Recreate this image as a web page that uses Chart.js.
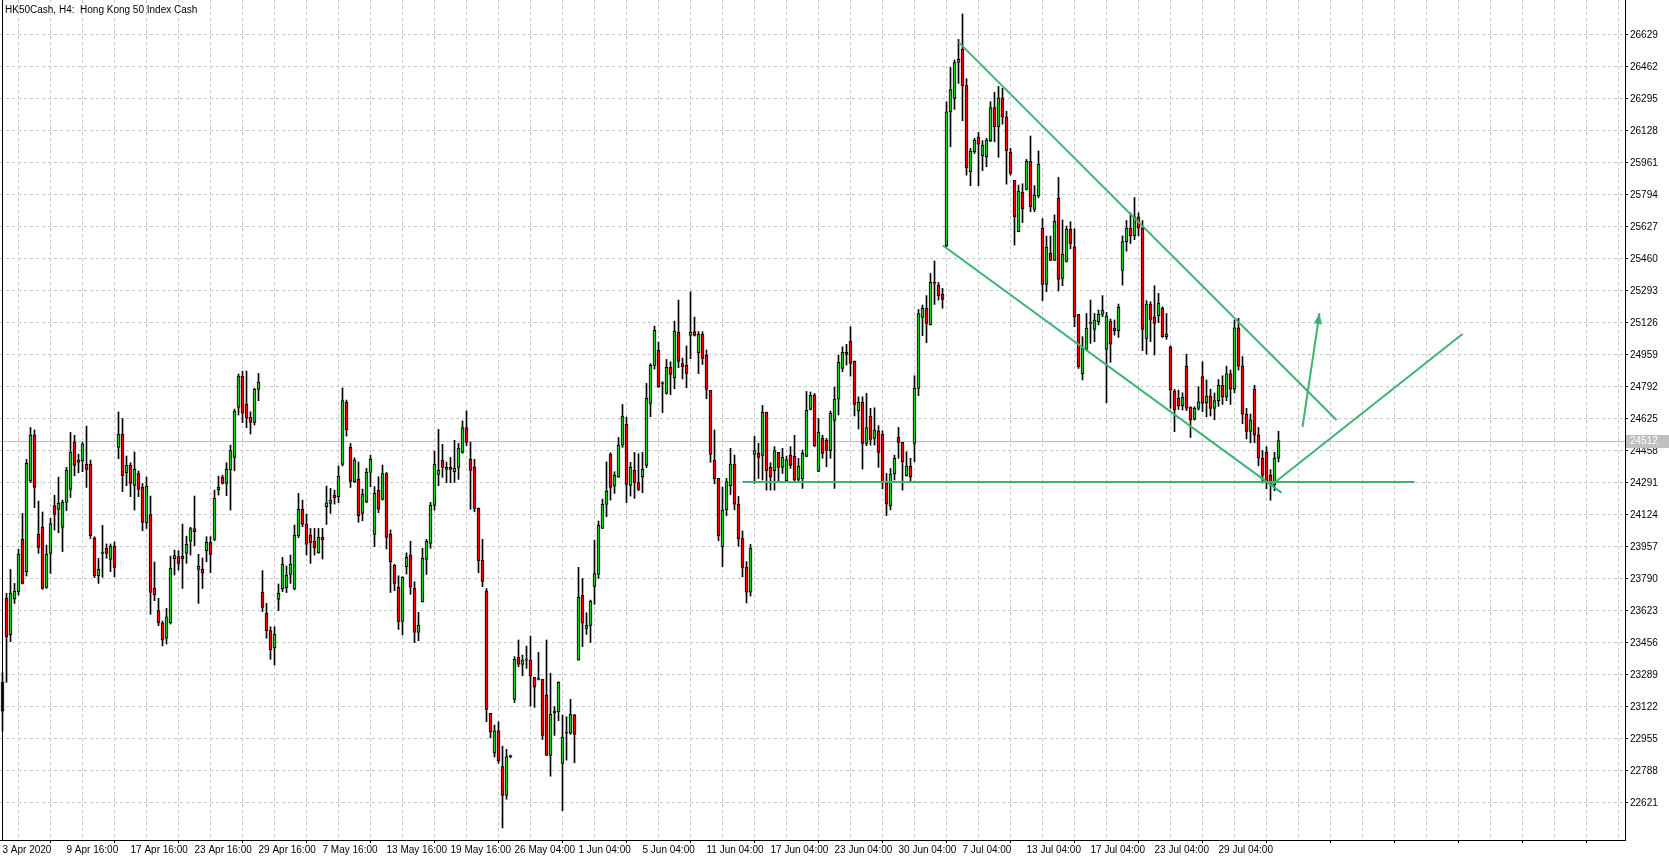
<!DOCTYPE html>
<html>
<head>
<meta charset="utf-8">
<script src="https://cdn.jsdelivr.net/npm/chart.js@4.4.0/dist/chart.umd.min.js"></script>
<style>
html, body { margin: 0; padding: 0; background: #fff; }
#wrap { position: relative; width: 1669px; height: 858px; }
#title { position: absolute; left: 5px; top: 4px; font: 10px "Liberation Sans"; color: #000; white-space: pre; }
</style>
</head>
<body>
<div id="wrap">
  <canvas id="chart" width="1669" height="858"></canvas>
  <div id="title">HK50Cash, H4:  Hong Kong 50 Index Cash</div>
</div>
<script>
// HK50Cash H4 candles, one entry per bar
var opens = [
  23250, 23688, 23497, 23685, 23723, 23996, 23827, 24302, 24540, 24022,
  24060, 23745, 23923, 24173, 24152, 24059, 24189, 24257, 24504, 24398,
  24407, 24387, 24387, 24001, 23806, 23923, 23949, 23892, 23961, 24476,
  24546, 24344, 24382, 24278, 24340, 24267, 24083, 24126, 23740, 23625,
  23560, 23480, 23561, 23895, 23906, 23907, 23923, 23986, 24052, 23839,
  23839, 23937, 23980, 23996, 24255, 24321, 24288, 24358, 24424, 24685,
  24848, 24702, 24633, 24607, 24779, 23719, 23610, 23520, 23430, 23683,
  23739, 23744, 23813, 23739, 24015, 24154, 24076, 24019, 23987, 23926,
  24008, 24167, 24184, 24227, 24219, 24387, 24713, 24476, 24297, 24311,
  24132, 24191, 24346, 24022, 24252, 24205, 24340, 24022, 23860, 23746,
  23568, 23853, 23914, 23740, 23511, 23669, 23892, 23975, 24173, 24335,
  24408, 24361, 24372, 24349, 24372, 24450, 24580, 24414, 24372, 24158,
  23886, 23728, 23088, 22880, 22997, 22810, 22660, 22862, 23161, 23380,
  23344, 23366, 23366, 23276, 23265, 23265, 23182, 22869, 23090, 23097,
  22827, 22984, 22984, 23079, 23366, 23704, 23531, 23547, 23751, 23813,
  24053, 24179, 24441, 24274, 24320, 24487, 24596, 24278, 24356, 24293,
  24323, 24382, 24706, 24904, 24982, 24808, 24758, 24894, 24840, 25076,
  24914, 24904, 25061, 25081, 24970, 25066, 24956, 24774, 24408, 24314,
  23958, 24150, 24276, 24389, 24180, 24000, 23850, 23720, 24440, 24445,
  24434, 24659, 24372, 24354, 24450, 24372, 24302, 24434, 24429, 24309,
  24311, 24429, 24674, 24748, 24351, 24523, 24513, 24459, 24617, 24728,
  24888, 24972, 25031, 24927, 24667, 24711, 24497, 24640, 24523, 24563,
  24544, 24290, 24170, 24337, 24528, 24502, 24328, 24379, 24497, 24784,
  25155, 25202, 25115, 25332, 25323, 25275, 25527, 26228, 26297, 26485,
  26553, 26364, 25915, 26019, 26094, 25998, 25993, 26077, 26250, 26150,
  26300, 26200, 26016, 25870, 25602, 25807, 25823, 25969, 25718, 25788,
  25619, 25327, 25489, 25452, 25776, 25358, 25447, 25616, 25523, 25170,
  24859, 24988, 25123, 25092, 25132, 25170, 24988, 25134, 25097, 25085,
  25400, 25550, 25620, 25580, 25680, 25620, 25045, 25224, 25158, 25162,
  25202, 25054, 24998, 24770, 24732, 24692, 24901, 24687, 24622, 24680,
  24845, 24709, 24744, 24680, 24720, 24800, 24740, 24860, 24780, 25100,
  24900, 24650, 24560, 24780, 24540, 24420, 24450, 24330, 24280, 24420
];
var highs = [
  23300, 23714, 23839, 23766, 23944, 24132, 24413, 24580, 24567, 24196,
  24139, 23966, 24106, 24226, 24321, 24201, 24372, 24554, 24539, 24441,
  24502, 24587, 24410, 24010, 23897, 24069, 23972, 23972, 23982, 24661,
  24627, 24431, 24396, 24452, 24353, 24288, 24321, 24222, 23878, 23688,
  23570, 23636, 23909, 23940, 23937, 24076, 24013, 24059, 24222, 23918,
  23899, 24010, 24010, 24253, 24326, 24332, 24396, 24488, 24676, 24859,
  24874, 24875, 24662, 24784, 24862, 23833, 23662, 23540, 23540, 23763,
  23902, 23857, 23914, 24071, 24236, 24201, 24128, 24053, 24053, 24053,
  24053, 24274, 24262, 24253, 24379, 24786, 24723, 24497, 24422, 24400,
  24259, 24367, 24436, 24271, 24323, 24384, 24345, 24045, 23865, 23806,
  23801, 23926, 23986, 23775, 23615, 23949, 23996, 24189, 24457, 24570,
  24492, 24400, 24424, 24513, 24497, 24614, 24666, 24504, 24414, 24160,
  23996, 23740, 23088, 23027, 23044, 22917, 22900, 22870, 23384, 23471,
  23392, 23439, 23491, 23276, 23406, 23265, 23471, 23297, 23123, 23253,
  23079, 23070, 23161, 23083, 23850, 23792, 23613, 23679, 23992, 24092,
  24206, 24400, 24448, 24349, 24528, 24700, 24634, 24398, 24450, 24443,
  24450, 24810, 24913, 25109, 25026, 24819, 24935, 24923, 25135, 25245,
  24942, 25005, 25288, 25156, 25080, 25080, 24984, 24774, 24567, 24314,
  24269, 24314, 24471, 24436, 24220, 24040, 23880, 23970, 24535, 24497,
  24695, 24660, 24396, 24480, 24450, 24471, 24431, 24480, 24539, 24419,
  24462, 24768, 24765, 24758, 24627, 24540, 24523, 24666, 24791, 24958,
  25001, 25014, 25106, 24927, 24740, 24740, 24758, 24680, 24683, 24589,
  24563, 24340, 24366, 24436, 24580, 24502, 24453, 24419, 24850, 25196,
  25219, 25268, 25384, 25449, 25337, 25306, 26280, 26459, 26498, 26605,
  26738, 26400, 26037, 26089, 26120, 26077, 26089, 26280, 26330, 26360,
  26350, 26230, 26037, 25870, 25845, 25852, 25979, 26101, 25842, 26023,
  25670, 25579, 25579, 25689, 25885, 25663, 25631, 25654, 25617, 25170,
  25054, 25175, 25245, 25175, 25193, 25268, 25181, 25146, 25141, 25224,
  25580, 25660, 25700, 25780, 25700, 25660, 25242, 25236, 25320, 25280,
  25210, 25175, 25007, 24779, 24775, 24761, 24963, 24688, 24688, 24793,
  24923, 24828, 24780, 24760, 24830, 24850, 24900, 24880, 25140, 25150,
  24950, 24680, 24650, 24800, 24580, 24460, 24480, 24360, 24450, 24560
];
var lows = [
  22995, 23250, 23462, 23662, 23705, 23763, 23805, 24292, 24161, 23923,
  23735, 23740, 23818, 24045, 24031, 23932, 24146, 24215, 24328, 24344,
  24349, 24267, 24001, 23796, 23766, 23798, 23897, 23827, 23801, 24417,
  24245, 24276, 24219, 24149, 24219, 24041, 24053, 23605, 23676, 23545,
  23440, 23450, 23554, 23810, 23836, 23740, 23871, 23914, 23963, 23662,
  23740, 23879, 23822, 23989, 24227, 24285, 24224, 24149, 24354, 24645,
  24605, 24579, 24546, 24593, 24720, 23619, 23480, 23370, 23340, 23624,
  23723, 23718, 23766, 23732, 24005, 24062, 23914, 23871, 23914, 23923,
  23893, 24074, 24132, 24180, 24187, 24379, 24535, 24267, 24292, 24085,
  24093, 24187, 24271, 23958, 24135, 24201, 23946, 23719, 23728, 23526,
  23497, 23815, 23709, 23457, 23467, 23669, 23813, 23949, 24149, 24276,
  24320, 24292, 24292, 24293, 24309, 24445, 24485, 24153, 24140, 23822,
  23749, 23044, 22960, 22860, 22827, 22490, 22640, 22855, 23144, 23331,
  23284, 23323, 23126, 23119, 23262, 22952, 22869, 22760, 22973, 23050,
  22580, 22844, 22978, 22830, 23366, 23436, 23500, 23458, 23657, 23792,
  24053, 24114, 24201, 24236, 24320, 24476, 24187, 24222, 24210, 24250,
  24239, 24370, 24636, 24885, 24789, 24657, 24754, 24751, 24782, 24892,
  24833, 24787, 24939, 25057, 24861, 24909, 24730, 24398, 24286, 23989,
  23853, 24120, 24230, 24150, 23960, 23800, 23664, 23700, 24288, 24314,
  24306, 24253, 24253, 24253, 24297, 24340, 24297, 24366, 24297, 24297,
  24262, 24427, 24671, 24480, 24349, 24419, 24375, 24419, 24262, 24645,
  24871, 24906, 24848, 24640, 24572, 24363, 24485, 24488, 24488, 24372,
  24260, 24120, 24150, 24306, 24419, 24253, 24326, 24302, 24401, 24746,
  25059, 25022, 25115, 25222, 25245, 25202, 25523, 26045, 26240, 26376,
  26181, 25897, 25842, 26010, 25842, 25920, 25941, 26071, 26071, 25990,
  26163, 25850, 25897, 25532, 25602, 25649, 25819, 25706, 25706, 25779,
  25242, 25289, 25452, 25452, 25292, 25320, 25443, 25513, 25106, 24888,
  24828, 24984, 25019, 25028, 25115, 25158, 24709, 24920, 25062, 25050,
  25323, 25500, 25540, 25560, 25580, 24981, 24963, 25028, 24958, 25127,
  25050, 25040, 24680, 24558, 24674, 24671, 24668, 24528, 24619, 24671,
  24662, 24636, 24640, 24620, 24690, 24700, 24720, 24700, 24760, 24880,
  24600, 24520, 24500, 24500, 24380, 24290, 24260, 24200, 24250, 24400
];
var closes = [
  23100, 23488, 23714, 23726, 23919, 23766, 24393, 24540, 24267, 23954,
  23740, 23919, 24079, 24126, 24184, 24189, 24358, 24452, 24382, 24410,
  24494, 24361, 24015, 23806, 23839, 23923, 23923, 23961, 23850, 24546,
  24328, 24382, 24288, 24361, 24257, 24085, 24273, 23719, 23707, 23560,
  23470, 23592, 23845, 23912, 23871, 23895, 23970, 24052, 24036, 23855,
  23819, 23980, 23918, 24210, 24267, 24288, 24361, 24460, 24666, 24848,
  24654, 24628, 24607, 24781, 24815, 23641, 23520, 23420, 23500, 23714,
  23866, 23810, 23867, 24019, 24154, 24074, 23970, 23979, 23953, 24006,
  23994, 24187, 24201, 24213, 24325, 24721, 24567, 24299, 24410, 24120,
  24233, 24346, 24414, 24236, 24153, 24340, 24006, 23879, 23766, 23568,
  23798, 23902, 23746, 23511, 23547, 23897, 23986, 24175, 24387, 24358,
  24372, 24372, 24361, 24367, 24471, 24580, 24502, 24356, 24158, 23885,
  23777, 23109, 22990, 22997, 22841, 22660, 22862, 22862, 23370, 23344,
  23366, 23366, 23283, 23224, 23265, 22973, 22869, 23083, 23100, 23250,
  22963, 22984, 23083, 22978, 23693, 23558, 23547, 23674, 23818, 24069,
  24179, 24248, 24267, 24330, 24487, 24638, 24283, 24372, 24293, 24257,
  24361, 24732, 24904, 25087, 24793, 24808, 24894, 24857, 25083, 24925,
  24897, 24862, 25076, 25061, 25066, 24941, 24779, 24440, 24313, 24015,
  24149, 24297, 24389, 24180, 24000, 23850, 23720, 23950, 24460, 24424,
  24659, 24354, 24323, 24460, 24372, 24424, 24413, 24382, 24306, 24379,
  24445, 24669, 24748, 24485, 24554, 24445, 24460, 24654, 24728, 24920,
  24972, 24961, 24914, 24700, 24711, 24497, 24579, 24518, 24567, 24450,
  24290, 24180, 24337, 24419, 24502, 24401, 24379, 24320, 24784, 25175,
  25202, 25123, 25337, 25332, 25268, 25248, 26228, 26344, 26485, 26501,
  26364, 25934, 26023, 26080, 26059, 26054, 26080, 26250, 26150, 26300,
  26200, 26024, 25906, 25680, 25814, 25722, 25969, 25732, 25793, 25953,
  25327, 25522, 25452, 25657, 25353, 25483, 25616, 25541, 25158, 24897,
  24995, 25097, 25123, 25141, 25170, 25193, 25162, 25015, 25085, 25207,
  25550, 25620, 25580, 25680, 25620, 25092, 25224, 25144, 25123, 25228,
  25054, 25068, 24775, 24671, 24692, 24737, 24680, 24619, 24680, 24714,
  24706, 24744, 24680, 24720, 24800, 24740, 24860, 24780, 25100, 24900,
  24650, 24560, 24620, 24540, 24420, 24330, 24300, 24280, 24420, 24512
];

// time labels, one every 16 bars
var xLabels = ["3 Apr 2020", "9 Apr 16:00", "17 Apr 16:00", "23 Apr 16:00", "29 Apr 16:00",
  "7 May 16:00", "13 May 16:00", "19 May 16:00", "26 May 04:00", "1 Jun 04:00",
  "5 Jun 04:00", "11 Jun 04:00", "17 Jun 04:00", "23 Jun 04:00", "30 Jun 04:00",
  "7 Jul 04:00", "13 Jul 04:00", "17 Jul 04:00", "23 Jul 04:00", "29 Jul 04:00"];
var priceTicks = [22621, 22788, 22955, 23122, 23289, 23456, 23623, 23790, 23957, 24124,
  24291, 24458, 24625, 24792, 24959, 25126, 25293, 25460, 25627, 25794,
  25961, 26128, 26295, 26462, 26629];
var lastPrice = 24512;

// hand drawn objects: [bar index, price]
var channelTop = [[239, 26591], [333.5, 24619]];
var channelBottom = [[235.1, 25530], [319.75, 24240]];
var supportLine = [[185, 24295], [353, 24295]];
var reboundLine = [[317, 24276], [365, 25068]];
var arrowLine = [[325, 24582], [329.25, 25177]];

var GREEN_LINE = '#3cb371';
var BULL = '#1ec81e';
var BEAR = '#ff0000';

var wicks = [], bodies = [], bodyColors = [];
for (var i = 0; i < opens.length; i++) {
  wicks.push({x: i, y: [lows[i], highs[i]]});
  bodies.push({x: i, y: [opens[i], closes[i]]});
  bodyColors.push(closes[i] >= opens[i] ? BULL : BEAR);
}

function lineSet(pts) {
  return {
    type: 'line',
    data: pts.map(function (p) { return {x: p[0], y: p[1]}; }),
    borderColor: GREEN_LINE,
    borderWidth: 2,
    pointRadius: 0,
    fill: false,
    tension: 0,
    order: 0
  };
}

var decor = {
  id: 'decor',
  beforeDatasetsDraw: function (chart) {
    var ctx = chart.ctx, a = chart.chartArea;
    var y = Math.round(chart.scales.y.getPixelForValue(lastPrice)) + 0.5;
    ctx.save();
    ctx.strokeStyle = '#c0c0c0';
    ctx.lineWidth = 1;
    ctx.beginPath();
    ctx.moveTo(a.left, y);
    ctx.lineTo(a.right, y);
    ctx.stroke();
    ctx.restore();
  },
  afterDatasetsDraw: function (chart) {
    var ctx = chart.ctx, xs = chart.scales.x, ys = chart.scales.y;
    // arrow head
    var x1 = xs.getPixelForValue(arrowLine[0][0]), y1 = ys.getPixelForValue(arrowLine[0][1]);
    var x2 = xs.getPixelForValue(arrowLine[1][0]), y2 = ys.getPixelForValue(arrowLine[1][1]);
    var ang = Math.atan2(y2 - y1, x2 - x1);
    ctx.save();
    ctx.fillStyle = GREEN_LINE;
    ctx.beginPath();
    ctx.moveTo(x2, y2);
    ctx.lineTo(x2 - 11 * Math.cos(ang) + 4 * Math.sin(ang), y2 - 11 * Math.sin(ang) - 4 * Math.cos(ang));
    ctx.lineTo(x2 - 11 * Math.cos(ang) - 4 * Math.sin(ang), y2 - 11 * Math.sin(ang) + 4 * Math.cos(ang));
    ctx.closePath();
    ctx.fill();
    ctx.restore();
  },
  afterDraw: function (chart) {
    var ctx = chart.ctx, a = chart.chartArea;
    ctx.save();
    // left frame
    ctx.strokeStyle = '#000';
    ctx.lineWidth = 1;
    ctx.beginPath();
    ctx.moveTo(2.5, 0);
    ctx.lineTo(2.5, a.bottom);
    ctx.stroke();
    // last price tag
    var y = Math.round(chart.scales.y.getPixelForValue(lastPrice));
    ctx.fillStyle = '#c0c0c0';
    ctx.fillRect(a.right + 1, y - 6, 44, 13);
    ctx.fillStyle = '#fff';
    ctx.font = '10px "Liberation Sans"';
    ctx.textBaseline = 'middle';
    ctx.fillText(String(lastPrice), a.right + 5, y + 0.5);
    ctx.restore();
  }
};

var axisFont = {family: 'Liberation Sans', size: 10};

new Chart(document.getElementById('chart'), {
  type: 'bar',
  data: {
    datasets: [
      lineSet(channelTop),
      lineSet(channelBottom),
      lineSet(supportLine),
      lineSet(reboundLine),
      lineSet(arrowLine),
      {
        data: bodies,
        backgroundColor: bodyColors,
        borderColor: '#000',
        borderWidth: 1,
        borderSkipped: false,
        barThickness: 3,
        minBarLength: 1,
        grouped: false,
        order: 1
      },
      {
        data: wicks,
        backgroundColor: '#000',
        borderWidth: 0,
        barThickness: 1,
        grouped: false,
        order: 2
      }
    ]
  },
  options: {
    responsive: false,
    animation: false,
    devicePixelRatio: 1,
    layout: {padding: 0},
    plugins: {legend: {display: false}, tooltip: {enabled: false}},
    scales: {
      x: {
        type: 'linear',
        min: -0.625,
        max: 405.625,
        offset: false,
        afterBuildTicks: function (s) {
          s.ticks = [];
          for (var v = 0; v <= 400; v += 8) s.ticks.push({value: v});
        },
        afterFit: function (s) { s.height = 18; s.paddingLeft = 0; s.paddingRight = 0; },
        ticks: {
          autoSkip: false, maxRotation: 0, minRotation: 0, align: 'start', padding: 1,
          font: axisFont, color: '#000',
          callback: function (v) { return v % 16 === 0 ? (xLabels[v / 16] || '') : ''; }
        },
        grid: {
          color: '#c8c8c8', lineWidth: 1, tickLength: 3,
          tickColor: function (c) { return c.tick && c.tick.value % 16 === 0 ? '#000' : 'rgba(0,0,0,0)'; }
        },
        border: {display: true, color: '#000', width: 1, dash: [3, 3]}
      },
      y: {
        type: 'linear',
        position: 'right',
        min: 22427,
        max: 26811,
        afterBuildTicks: function (s) {
          s.ticks = priceTicks.map(function (v) { return {value: v}; });
        },
        afterFit: function (s) { s.width = 44; s.paddingTop = 0; s.paddingBottom = 0; },
        ticks: {
          font: axisFont, color: '#000', padding: 2, autoSkip: false,
          callback: function (v) { return String(v); }
        },
        grid: {color: '#c8c8c8', lineWidth: 1, tickLength: 3, tickColor: '#000'},
        border: {display: true, color: '#000', width: 1, dash: [3, 3]}
      }
    }
  },
  plugins: [decor]
});
</script>
</body>
</html>
